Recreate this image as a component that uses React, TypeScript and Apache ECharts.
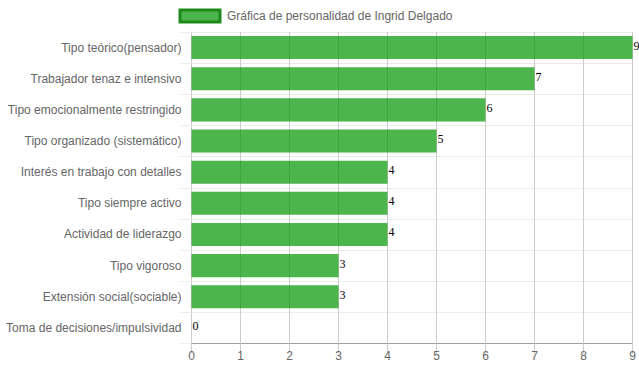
import React, { useEffect, useRef } from "react";
import * as echarts from "echarts";

const categories = [
  "Tipo teórico(pensador)",
  "Trabajador tenaz e intensivo",
  "Tipo emocionalmente restringido",
  "Tipo organizado (sistemático)",
  "Interés en trabajo con detalles",
  "Tipo siempre activo",
  "Actividad de liderazgo",
  "Tipo vigoroso",
  "Extensión social(sociable)",
  "Toma de decisiones/impulsividad",
];
const values = [9, 7, 6, 5, 4, 4, 4, 3, 3, 0];
const seriesName = "Gráfica de personalidad de Ingrid Delgado";

export default function App() {
  const ref = useRef<HTMLDivElement>(null);
  useEffect(() => {
    document.body.style.margin = "0";
    const chart = echarts.init(ref.current!, undefined, { renderer: "svg" });
    chart.setOption({
      animation: false,
      textStyle: { fontFamily: "Liberation Sans, Arial, sans-serif" },
      legend: {
        left: 178.5,
        top: 8.5,
        padding: 0,
        icon: "rect",
        itemWidth: 40,
        itemHeight: 12,
        itemStyle: { color: "#4cb54c", borderColor: "#1e8a1e", borderWidth: 3 },
        textStyle: { color: "#666", fontSize: 12, fontFamily: "Liberation Sans, Arial, sans-serif", padding: [0, 0, 0, 2] },
        data: [seriesName],
      },
      grid: { left: 191.5, right: 6.5, top: 32, bottom: 28.5, containLabel: false },
      xAxis: {
        type: "value",
        min: 0,
        max: 9,
        interval: 1,
        axisLine: { show: true, lineStyle: { color: "#9e9e9e" } },
        axisTick: { show: true, length: 10, lineStyle: { color: "#cccccc" } },
        splitLine: { show: true, lineStyle: { color: "#cccccc" } },
        axisLabel: { color: "#666", fontSize: 12, margin: 6 },
      },
      yAxis: {
        type: "category",
        inverse: true,
        data: categories,
        axisLine: { show: true, lineStyle: { color: "#cccccc" } },
        axisTick: { show: true, length: 11, lineStyle: { color: "#ebebeb" } },
        splitLine: { show: true, lineStyle: { color: "#ebebeb" } },
        axisLabel: { color: "#666", fontSize: 12, margin: 10 },
      },
      series: [
        {
          name: seriesName,
          type: "bar",
          data: values,
          barCategoryGap: "26%",
          itemStyle: { color: "rgba(0,150,0,0.7)" },
          label: {
            show: true,
            position: "right",
            distance: 1,
            color: "#000",
            fontSize: 12,
            fontFamily: "Liberation Serif, Times New Roman, serif",
            offset: [0, -2],
          },
        },
      ],
    });
    return () => chart.dispose();
  }, []);
  return <div ref={ref} style={{ width: 639, height: 372 }} />;
}
